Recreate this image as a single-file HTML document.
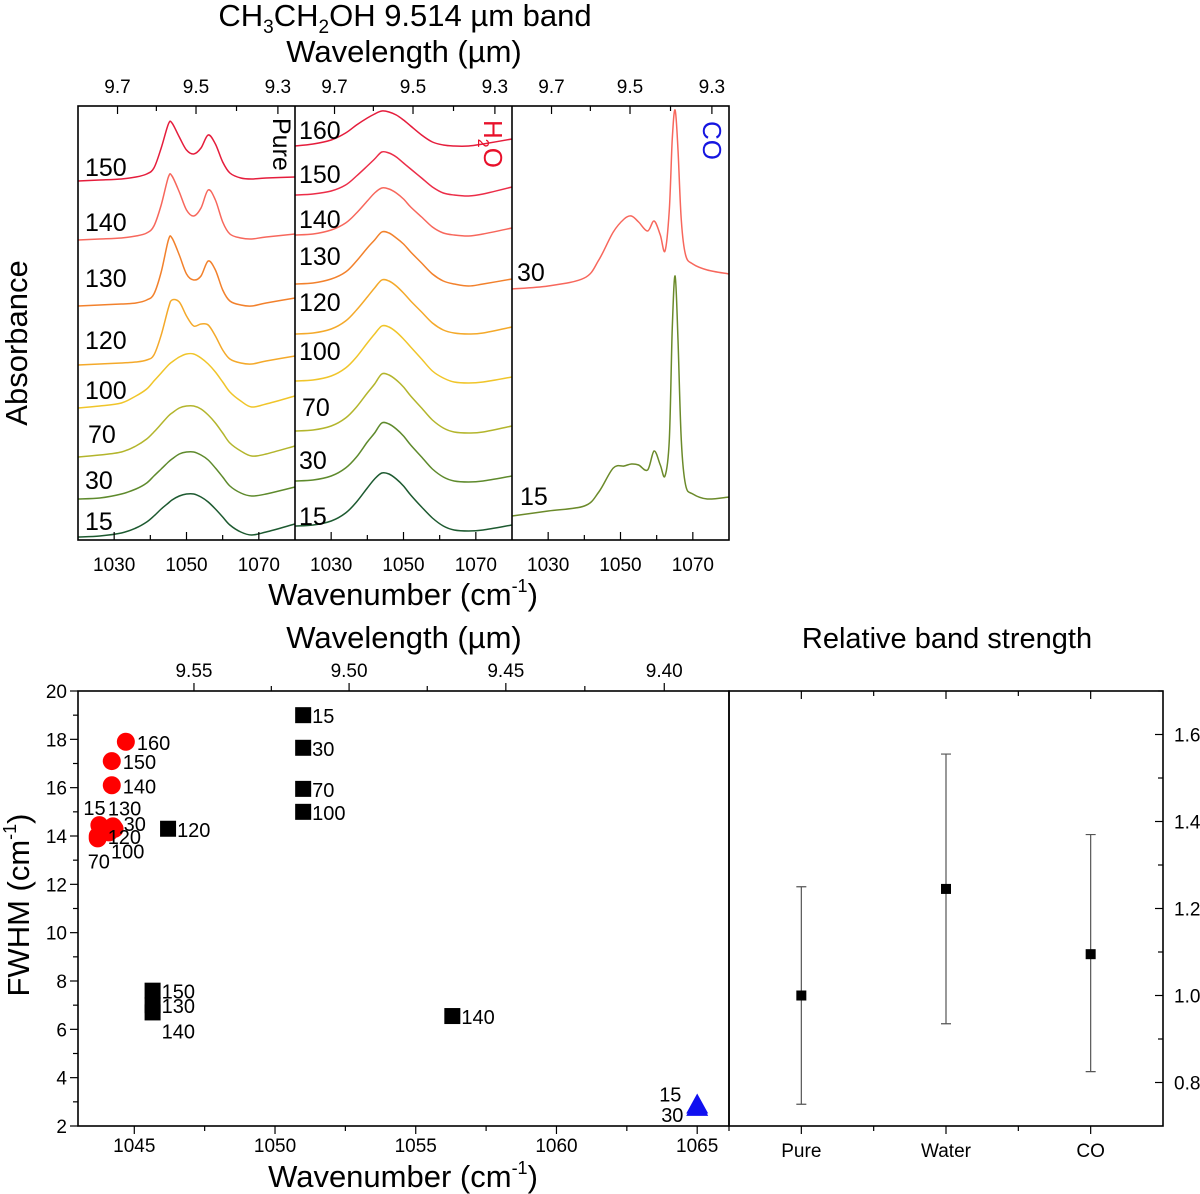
<!DOCTYPE html>
<html><head><meta charset="utf-8"><style>
html,body{margin:0;padding:0;background:#fff;}
svg{display:block;font-family:"Liberation Sans Narrow","Liberation Sans",sans-serif;}
.t{font-family:"Liberation Sans",sans-serif;}
</style></head><body>
<svg id="c" width="1200" height="1194" viewBox="0 0 1200 1194" xmlns="http://www.w3.org/2000/svg"></svg>
<script>
// ---------- spectra data (heights in plot units, 0 = bottom of panel) ----------
const pureGrid=[1020,1026,1032,1036,1039,1041,1043,1045,1046,1048,1050,1052,1054,1056,1058,1060,1062,1065,1068,1072,1080];
const pureTemps=[15,30,70,100,120,130,140,150];
const pure15=[3,4,7,12,18,24,31,37,40,44,46,46,43,38,31,23,15,8,5,8,16];
const pure30=[41,42,46,51,57,64,71,78,81,86,88,88,85,80,72,63,54,47,44,46,53];
const pure70=[83,85,88,94,101,108,116,124,127,132,134,134,131,125,117,107,97,89,84,86,94];
const pure100=[132,134,137,144,151,159,167,175,178,183,186,186,182,176,168,158,148,139,133,136,144];
const pure120=[175,176,177,178,180,185,205,232,240,238,224,214,216,215,204,190,181,177,176,179,184];
const pure130=[234,235,236,237,240,246,268,300,302,285,266,260,264,279,270,250,239,235,234,237,242];
const pure140=[300,301,302,304,307,314,335,363,364,348,330,324,332,350,340,318,306,302,301,303,306];
const pure150=[359,360,361,363,366,372,392,416,417,403,390,386,392,405,396,378,367,362,361,362,363];
const waterGrid=[1020,1025,1030,1034,1037,1040,1042,1044,1046,1048,1050,1052,1055,1058,1061,1064,1068,1072,1080];
const waterTemps=[15,30,70,100,120,130,140,150,160];
const water15=[14,15,19,27,38,52,61,67,66,61,54,45,33,22,14,10,9,10,15];
const water30=[59,60,64,72,83,98,107,117,116,111,104,95,83,71,63,59,58,59,64];
const water70=[109,110,114,122,133,147,156,166,165,160,153,144,132,120,112,108,107,108,114];
const water100=[159,160,164,172,183,197,206,214,213,208,201,193,181,169,162,158,157,158,163];
const water120=[206,207,211,219,230,243,252,260,259,254,247,239,228,217,210,207,206,207,213];
const water130=[256,257,261,268,279,292,300,308,307,302,296,288,277,266,259,256,254,256,261];
const water140=[305,306,310,317,327,339,347,352,351,347,341,333,323,313,307,305,304,306,312];
const water150=[345,346,349,355,364,374,381,388,387,383,377,371,362,353,347,345,344,346,353];
const water160=[394,396,400,407,415,422,426,429,428,425,420,414,405,398,395,394,394,396,401];
const coGrid=[1020,1030,1040,1044,1048,1051,1053,1055,1057.5,1059.3,1061,1062.3,1063.5,1064.3,1065.1,1065.9,1066.8,1068,1070,1074,1080];
const coTemps=[15,30];
const co15=[24,29,34,48,72,74,76,75,70,89,75,64,100,210,264,200,100,55,46,41,43];
const co30=[251,254,262,280,308,321,324,318,309,319,305,289,330,400,430,390,320,285,276,270,266];
const topWnTicks=[1030,1050,1070];
const topWlTicks=["9.7","9.5","9.3"];
// ---------- FWHM scatter data ----------
const pureLabels=["15","30","70","100","120","150","130","140","140"];
const purePos=[1051.0,1051.0,1051.0,1051.0,1046.2,1045.65,1045.65,1045.65,1056.3];
const pureFwhm=[19.0,17.65,15.95,15.0,14.3,7.6,7.0,6.7,6.55];
const waterLabels=["160","150","140","15","130","30","120","100","70"];
const waterPos=[1044.7,1044.2,1044.2,1043.76,1044.24,1044.3,1043.7,1044.1,1043.7];
const waterFwhm=[17.9,17.1,16.1,14.45,14.4,14.3,14.0,14.15,13.9];
const coLabels=["15","30"];
const coPos=[1065.0,1065.0];
const coFwhm=[2.85,2.75];
const xTicks=[1045,1050,1055,1060,1065];
const yTicks=[2,4,6,8,10,12,14,16,18,20];
const wlTicks=["9.55","9.50","9.45","9.40"];
// ---------- relative band strength ----------
const bsCats=["Pure","Water","CO"];
const bsVals=[1.0,1.245,1.095];
const bsLow=[0.75,0.935,0.825];
const bsHigh=[1.25,1.555,1.37];
const bsTicks=["0.8","1.0","1.2","1.4","1.6"];

const NS="http://www.w3.org/2000/svg";
const svg=document.getElementById('c');
function E(tag,attrs,parent){const e=document.createElementNS(NS,tag);for(const k in attrs)e.setAttribute(k,attrs[k]);(parent||svg).appendChild(e);return e;}
function T(x,y,txt,size,opts){opts=opts||{};const e=E('text',{x:x,y:y,'font-size':size,fill:opts.fill||'#000','text-anchor':opts.anchor||'start'},opts.parent);if(opts.cls)e.setAttribute('class',opts.cls);if(opts.tr)e.setAttribute('transform',opts.tr);e.textContent=txt;return e;}
function crPath(pts){let d='M'+pts[0][0].toFixed(1)+','+pts[0][1].toFixed(1);for(let i=0;i<pts.length-1;i++){const p0=pts[Math.max(0,i-1)],p1=pts[i],p2=pts[i+1],p3=pts[Math.min(pts.length-1,i+2)];const c1=[p1[0]+(p2[0]-p0[0])/6,p1[1]+(p2[1]-p0[1])/6],c2=[p2[0]-(p3[0]-p1[0])/6,p2[1]-(p3[1]-p1[1])/6];d+='C'+c1[0].toFixed(1)+','+c1[1].toFixed(1)+' '+c2[0].toFixed(1)+','+c2[1].toFixed(1)+' '+p2[0].toFixed(1)+','+p2[1].toFixed(1);}return d;}

// ===== TOP PANELS =====
const TT=106,TB=540,panelX=[78,295,512],PW=217;
function tx(p,wn){return panelX[p]+(wn-1020)*PW/60;}
function ty(h){return TB-h*(TB-TT)/434;}
const topG=E('g',{});


const panels=[
 {name:'pure',grid:pureGrid,temps:pureTemps,series:[pure15,pure30,pure70,pure100,pure120,pure130,pure140,pure150],
  colors:['#1d5a30','#5e8a2c','#b3b52c','#f0c52a','#f4a92a','#f2812c','#f7675c','#e51d3c'],
  lab:[[85,521],[85,480],[88,434],[85,390],[85,340],[85,278],[85,222],[85,167]]},
 {name:'water',grid:waterGrid,temps:waterTemps,series:[water15,water30,water70,water100,water120,water130,water140,water150,water160],
  colors:['#1d5a30','#5e8a2c','#b3b52c','#f0c52a','#f4a92a','#f2812c','#f7675c','#ec2d48','#e51d3c'],
  lab:[[299,516],[299,460],[302,407],[299,351],[299,302],[299,256],[299,219],[299,174],[299,130]]},
 {name:'co',grid:coGrid,temps:coTemps,series:[co15,co30],colors:['#6b8a2a','#f7675c'],lab:[[520,496],[517,272]]}
];
panels.forEach((P,pi)=>{
  const g=E('g',{},topG);
  
  
  P.series.forEach((s,si)=>{
    const pts=P.grid.map((w,i)=>[tx(pi,w),ty(s[i])]);
    const path=E('path',{d:crPath(pts),fill:'none',stroke:P.colors[si],'stroke-width':1.5},g);
    
    
    const l=T(P.lab[si][0],P.lab[si][1]+9,String(P.temps[si]),25,{parent:g,cls:'t'});
    
    
  });
  [1030,1040,1050,1060,1070].forEach(w=>{const x=tx(pi,w);const L=(w%20===10)?8:5;E('line',{x1:x,y1:TB,x2:x,y2:TB-L,stroke:'#000','stroke-width':1.2},g);});
  topWnTicks.forEach(w=>{const t=T(tx(pi,w),571,String(w),19,{anchor:'middle',parent:g});
    
    });
  [9.7,9.6,9.5,9.4,9.3].forEach((l,i)=>{const x=tx(pi,10000/l);const L=(i%2===0)?8:5;E('line',{x1:x,y1:TT,x2:x,y2:TT+L,stroke:'#000','stroke-width':1.2},g);});
  topWlTicks.forEach(l=>{const t=T(tx(pi,10000/parseFloat(l)),93,l,19,{anchor:'middle',parent:g});
    
    });
});
E('rect',{x:78,y:TT,width:651,height:TB-TT,fill:'none',stroke:'#000','stroke-width':1.6},topG);
E('line',{x1:295,y1:TT,x2:295,y2:TB,stroke:'#000','stroke-width':1.6},topG);
E('line',{x1:512,y1:TT,x2:512,y2:TB,stroke:'#000','stroke-width':1.6},topG);
let pt=T(0,0,'Pure',25,{tr:'translate(273,118) rotate(90)',cls:'t'});


let h2o=E('text',{transform:'translate(484,120) rotate(90)','font-size':26,fill:'#e8102a',class:'t'});


h2o.innerHTML='H<tspan font-size="16" dy="6">2</tspan><tspan dy="-6">O</tspan>';
let cot=T(0,0,'CO',26,{tr:'translate(703,121) rotate(90)',fill:'#1515e0',cls:'t'});


let tt=E('text',{x:405,y:26,'font-size':31,'text-anchor':'middle'});


tt.innerHTML='CH<tspan font-size="19" dy="7">3</tspan><tspan dy="-7">CH</tspan><tspan font-size="19" dy="7">2</tspan><tspan dy="-7">OH 9.514 µm band</tspan>';
let w1=T(404,62,'Wavelength (µm)',31,{anchor:'middle'});


let ab=T(0,0,'Absorbance',31,{anchor:'middle',tr:'translate(27,343) rotate(-90)',cls:'t'});


let wn1=E('text',{x:403,y:605,'font-size':31,'text-anchor':'middle'});


wn1.innerHTML='Wavenumber (cm<tspan font-size="18" dy="-13">-1</tspan><tspan dy="13">)</tspan>';

// ===== FWHM SCATTER =====
const SL=78,SR=729,ST=691,SB=1126,X0=1043.0,X1=1066.13,Y0=2,Y1=20;
function sx(v){return SL+(v-X0)*(SR-SL)/(X1-X0);}
function sy(v){return SB-(v-Y0)*(SB-ST)/(Y1-Y0);}
const sc=E('g',{});


E('rect',{x:SL,y:ST,width:SR-SL,height:SB-ST,fill:'none',stroke:'#000','stroke-width':1.6},sc);
for(let v=1045;v<=1065;v+=2.5){const x=sx(v);const maj=(v%5===0);E('line',{x1:x,y1:SB,x2:x,y2:SB+(maj?8:5),stroke:'#000','stroke-width':1.2},sc);}
xTicks.forEach(v=>{const t=T(sx(v),1152,String(v),19,{anchor:'middle',parent:sc});
  
  });
for(let v=Y0;v<=Y1;v++){const y=sy(v);E('line',{x1:SL,y1:y,x2:SL-((v%2===0)?8:5),y2:y,stroke:'#000','stroke-width':1.2},sc);}
yTicks.forEach(v=>{const t=T(67,sy(v)+7,String(v),19,{anchor:'end',parent:sc});
  
  });
[9.55,9.525,9.5,9.475,9.45,9.425,9.4].forEach((l,i)=>{const x=sx(10000/l);E('line',{x1:x,y1:ST,x2:x,y2:ST-((i%2===0)?8:5),stroke:'#000','stroke-width':1.2},sc);});
wlTicks.forEach(l=>{const t=T(sx(10000/parseFloat(l)),677,l,19,{anchor:'middle',parent:sc});
  
  });
const pureOff=[[9,8],[9,8],[9,8],[9,8],[9,8],[9,8],[9,8],[9,26],[9,8]];
const waterOff=[[11,8],[11,8],[11,8],[-16,-10],[-5,-11],[9,2],[10,8],[2,26],[-10,30]];
pureFwhm.forEach((v,i)=>{const x=sx(purePos[i]),y=sy(v);const r=E('rect',{x:x-8,y:y-8,width:16,height:16,fill:'#000'},sc);
 
 
 const t=T(x+pureOff[i][0],y+pureOff[i][1],pureLabels[i],20,{parent:sc});
 
 });
waterFwhm.forEach((v,i)=>{const x=sx(waterPos[i]),y=sy(v);const c=E('circle',{cx:x,cy:y,r:9,fill:'#f00'},sc);
 
 });
waterFwhm.forEach((v,i)=>{const x=sx(waterPos[i]),y=sy(v);const t=T(x+waterOff[i][0],y+waterOff[i][1],waterLabels[i],20,{parent:sc});
 
 });
const coOff=[[-38,-4],[-36,14]];
coFwhm.forEach((v,i)=>{const x=sx(coPos[i]),y=sy(v);const p=E('polygon',{points:(x-11)+','+(y+8)+' '+(x+11)+','+(y+8)+' '+x+','+(y-12),fill:'#1010f0'},sc);
 
 
 const t=T(x+coOff[i][0],y+coOff[i][1],coLabels[i],20,{parent:sc});
 
 });
let w2=T(404,648,'Wavelength (µm)',31,{anchor:'middle'});


let wn2=E('text',{x:403,y:1187,'font-size':31,'text-anchor':'middle'});


wn2.innerHTML='Wavenumber (cm<tspan font-size="18" dy="-13">-1</tspan><tspan dy="13">)</tspan>';
let fw=E('text',{transform:'translate(29,905) rotate(-90)','font-size':31,'text-anchor':'middle',class:'t'});


fw.innerHTML='FWHM (cm<tspan font-size="18" dy="-13">-1</tspan><tspan dy="13">)</tspan>';

// ===== BAND STRENGTH =====
const BL=729,BR=1163,BT=691,BB=1126,B0=0.7,B1=1.7;
function bx(i){return BL+(i+0.5)*(BR-BL)/3;}
function by(v){return BB-(v-B0)*(BB-BT)/(B1-B0);}
const bs=E('g',{});


E('rect',{x:BL,y:BT,width:BR-BL,height:BB-BT,fill:'none',stroke:'#000','stroke-width':1.6},bs);
for(let i=0;i<=5;i++){const x=BL+i*(BR-BL)/6;const maj=(i%2===1);E('line',{x1:x,y1:BB,x2:x,y2:BB+(maj?8:5),stroke:'#000','stroke-width':1.2},bs);E('line',{x1:x,y1:BT,x2:x,y2:BT+(maj?8:5),stroke:'#000','stroke-width':1.2},bs);}
for(let k=0;k<=9;k++){const v=0.8+k*0.1;const y=by(v);E('line',{x1:BR,y1:y,x2:BR-((k%2===0)?8:5),y2:y,stroke:'#000','stroke-width':1.2},bs);}
bsTicks.forEach(l=>{const t=T(BR+11,by(parseFloat(l))+7,l,19,{parent:bs,cls:'t'});
  
  });
bsCats.forEach((c,i)=>{const x=bx(i);
 const eb=E('path',{d:'M'+x+','+by(bsLow[i])+'V'+by(bsHigh[i])+'M'+(x-5)+','+by(bsLow[i])+'h10M'+(x-5)+','+by(bsHigh[i])+'h10',stroke:'#555','stroke-width':1.2,fill:'none'},bs);
 
 
 const r=E('rect',{x:x-5,y:by(bsVals[i])-5,width:10,height:10,fill:'#000'},bs);
 
 
 const t=T(x,1157,c,19,{anchor:'middle',parent:bs,cls:'t'});
 
 });
let rb=T(947,648,'Relative band strength',29,{anchor:'middle',cls:'t'});


</script>
</body></html>
